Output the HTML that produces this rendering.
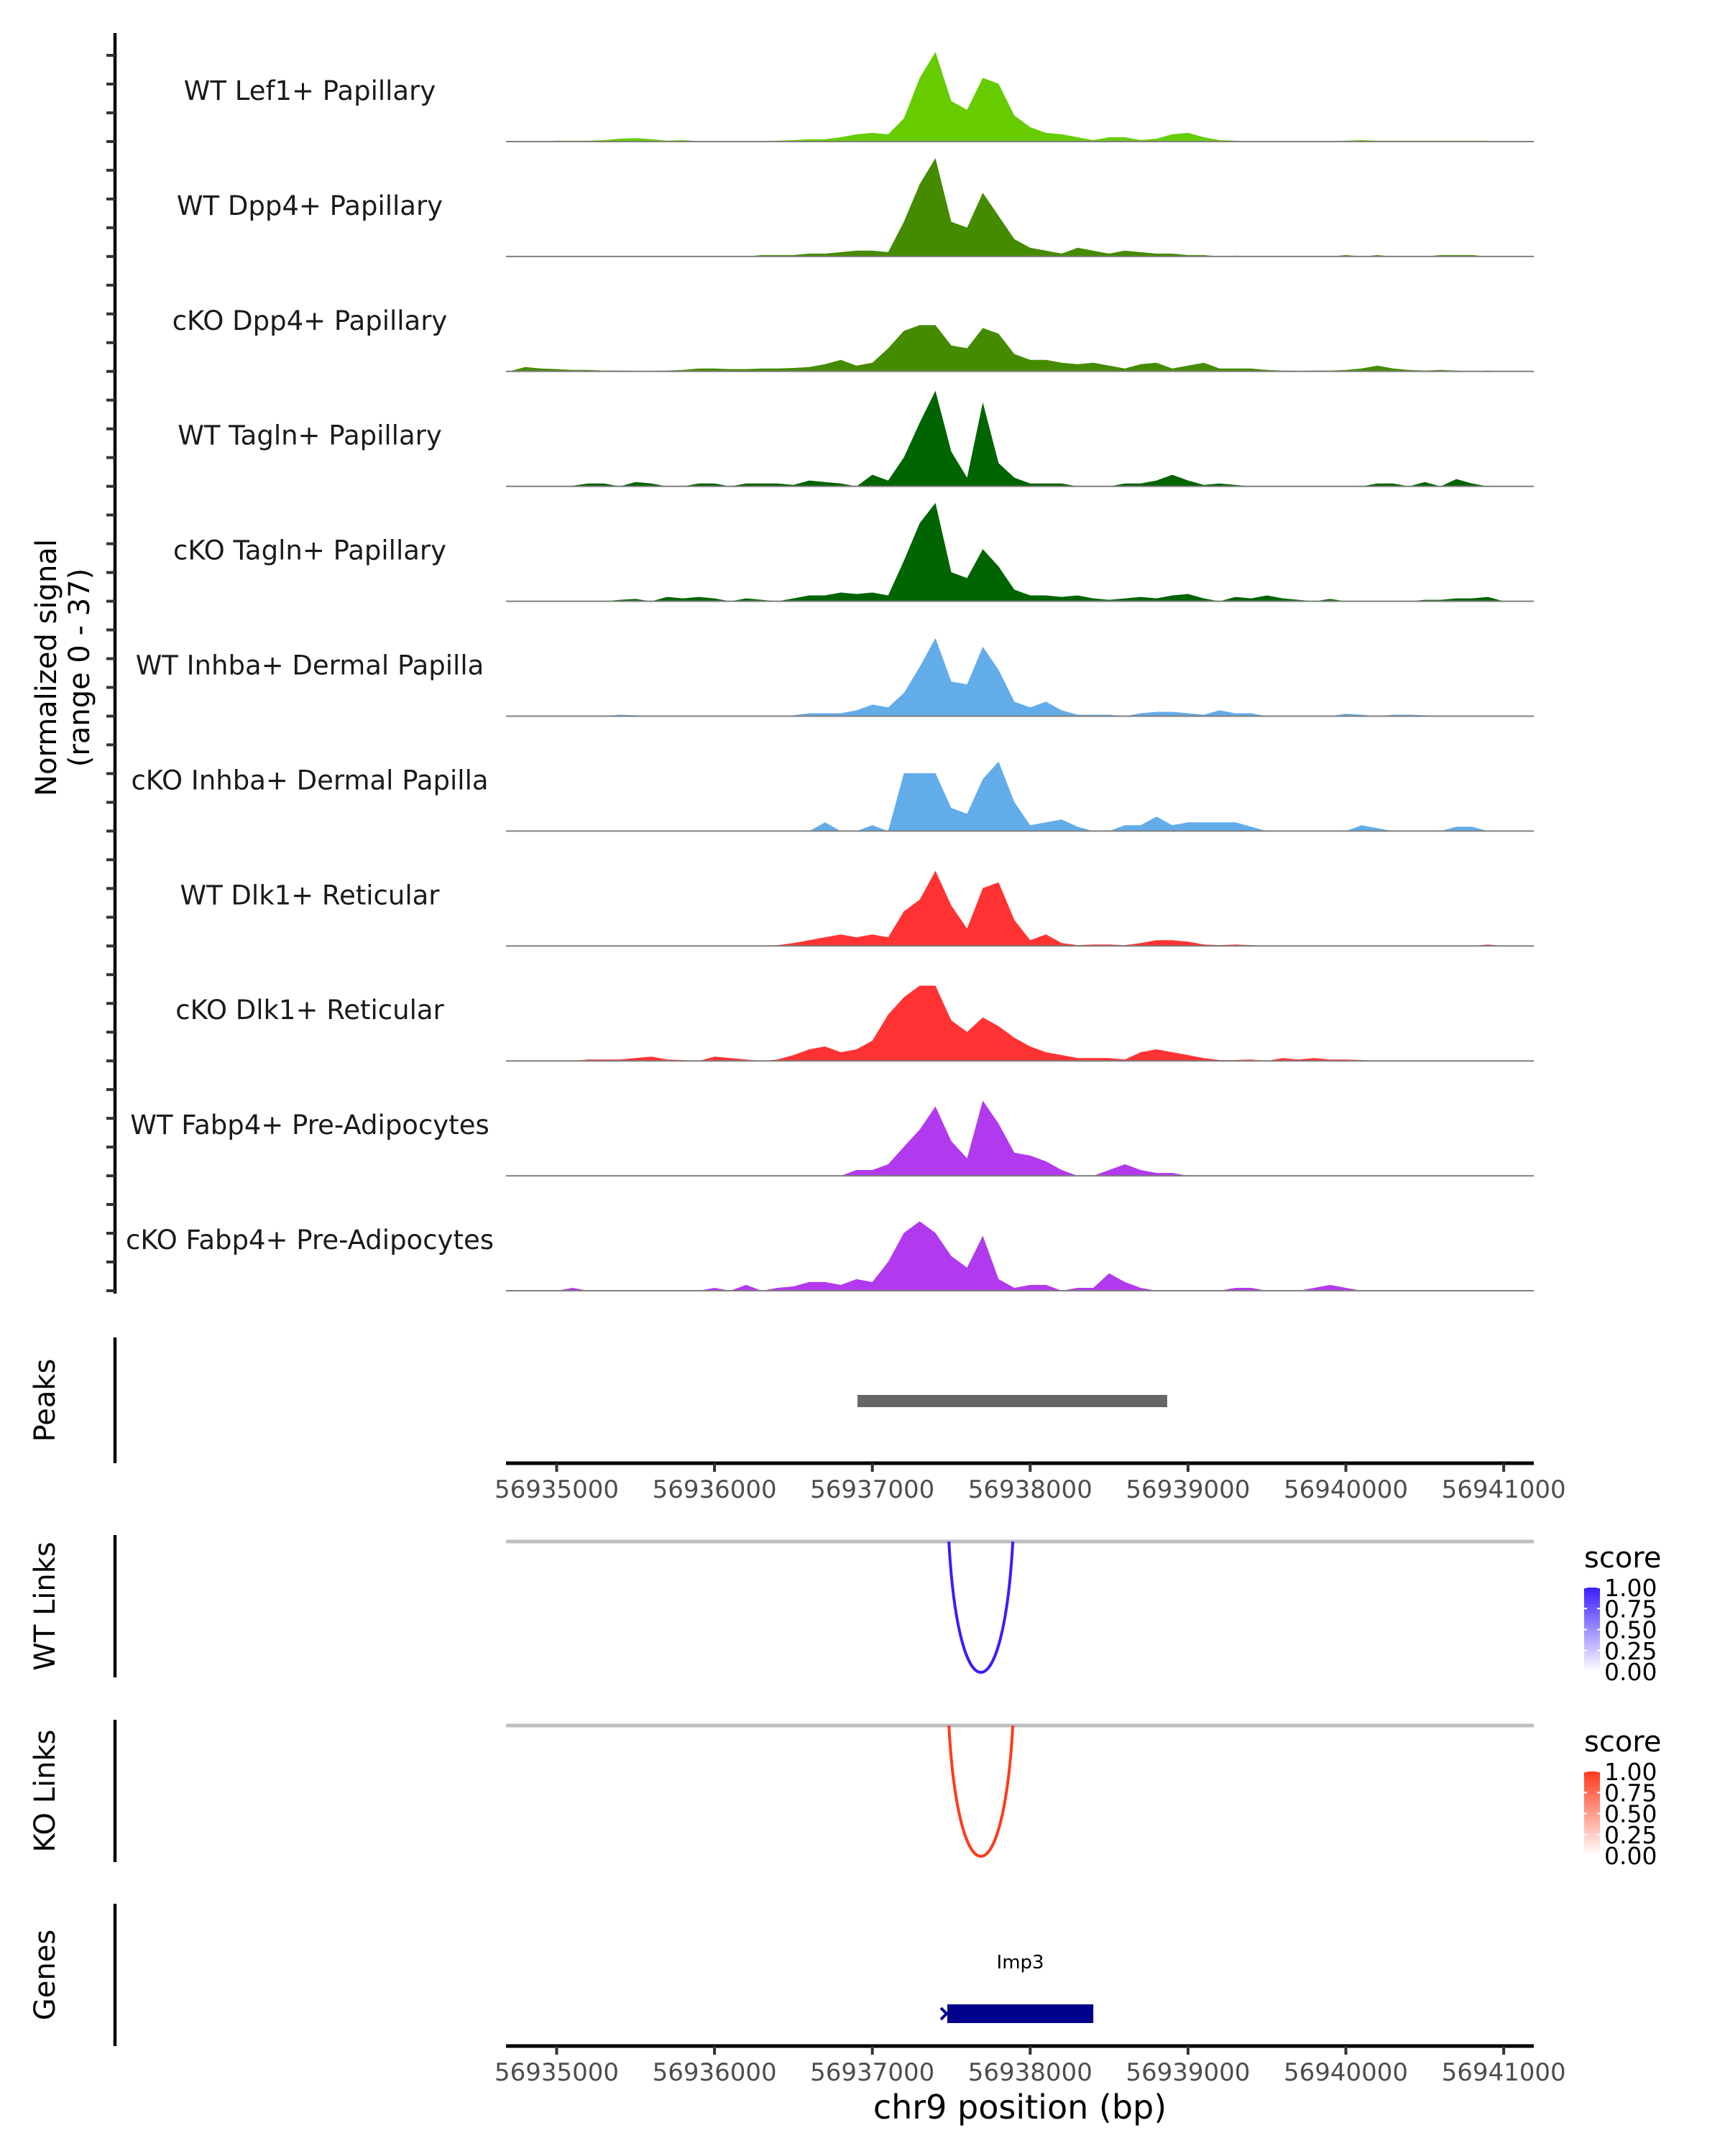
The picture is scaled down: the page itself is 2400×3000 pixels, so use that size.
<!DOCTYPE html>
<html><head><meta charset="utf-8"><style>
html,body{margin:0;padding:0;background:#fff;}
svg{display:block;font-family:"DejaVu Sans","Liberation Sans",sans-serif;}
</style></head><body>
<svg id="chart" width="2400" height="3000" viewBox="0 0 2400 3000"></svg>
<script>
const binStart = 56934700;
const binSize = 100;
const trackLabels = ["WT Lef1+ Papillary","WT Dpp4+ Papillary","cKO Dpp4+ Papillary","WT Tagln+ Papillary","cKO Tagln+ Papillary","WT Inhba+ Dermal Papilla","cKO Inhba+ Dermal Papilla","WT Dlk1+ Reticular","cKO Dlk1+ Reticular","WT Fabp4+ Pre-Adipocytes","cKO Fabp4+ Pre-Adipocytes"];
const trackColors = ["#66cc00","#458b00","#458b00","#006400","#006400","#63acea","#63acea","#ff3333","#ff3333","#b23aee","#b23aee"];
const sigLef1WT = [0,0,0,0.3,0.3,0.3,0.5,1,1.2,0.8,0.3,0.5,0.2,0.2,0.2,0.2,0.2,0.3,0.5,0.8,0.8,1.5,2.5,3,2.5,8,22,31,14,11,22,20,9,5,3,2.5,1.5,0.5,1.5,1.5,0.5,1,2.5,3,1.5,0.5,0.3,0.2,0.2,0.2,0.2,0.2,0.2,0.3,0.5,0.3,0.3,0.3,0.3,0.3,0.3,0.3,0.3,0,0];
const sigDpp4WT = [0,0,0,0,0,0,0,0,0,0,0,0,0,0,0,0,0.5,0.5,0.5,1,1,1.5,2,2,1.5,12,25,34,12,10,22,14,6,3,2,1,3,2,1,2,1.5,1,1,0.5,0.5,0,0.3,0,0,0,0,0,0,0.5,0,0.5,0,0,0,0.5,0.5,0.5,0,0,0];
const sigDpp4KO = [0,1.5,1,0.8,0.5,0.5,0.3,0.3,0.2,0.2,0.3,0.5,1,1,0.8,0.8,1,1,1.2,1.5,2.5,4,2,3,8,14,16,16,9,8,15,13,6,4,4,3,2.5,3,2,1,2.5,3,1,2,3,1,1,1,0.5,0.3,0.2,0.3,0.3,0.5,1,2,1,0.5,0.3,0.5,0.3,0,0.3,0,0];
const sigTaglnWT = [0,0,0,0,0.2,1,1,0,1.5,1,0,0,1,1,0,1,1,1,0.5,2,1.5,1,0,4,2,10,22,33,12,3,29,8,3,1,1,1,0,0,0,1,1,2,4,2,0.5,1,0.5,0,0,0,0,0,0,0,0,1,1,0,1.5,0,2.5,1,0,0,0];
const sigTaglnKO = [0,0,0,0,0,0,0,0.5,0.8,0,1.5,1,1.5,1,0,1,0.5,0,1,2,2,3,2.5,3,2,14,27,34,10,8,18,12,4,2,2,1.5,2,1,0.5,1,1.5,1,2,2.5,1,0,1.5,1,2,1,0.5,0,0.8,0,0,0,0,0,0.5,0.5,1,1,1.5,0,0];
const sigInhbaWT = [0,0,0,0,0,0,0,0.5,0.3,0,0,0,0,0,0.2,0.2,0,0,0.3,1,1,1,2,4,3,8,17,27,12,11,24,16,5,3,5,2,0.5,0.5,0.5,0,1,1.5,1.5,1,0.5,2,1,1,0,0,0,0,0,0.8,0.5,0,0.5,0.5,0.3,0,0,0,0,0,0];
const sigInhbaKO = [0,0,0,0,0,0,0,0,0,0,0,0,0,0,0,0,0,0,0,0,3,0,0,2,0,20,20,20,8,6,18,24,10,2,3,4,1.5,0,0,2,2,5,2,3,3,3,3,1.5,0,0,0,0,0,0,2,1,0,0,0,0,1.5,1.5,0,0,0];
const sigDlk1WT = [0,0,0,0,0,0,0,0,0,0,0,0,0,0,0,0,0,0.3,1,2,3,4,3,4,3,12,16,26,14,6,20,22,9,2,4,1,0.3,0.5,0.5,0.3,1,2,2,1.5,0.5,0.3,0.5,0.3,0,0,0,0,0,0,0,0,0,0,0,0,0,0,0.5,0,0];
const sigDlk1KO = [0,0,0,0,0,0.5,0.5,0.5,1,1.5,0.5,0.3,0,1.5,1,0.5,0,0.5,2,4,5,3,4,7,16,22,26,26,14,10,15,12,8,5,3,2,1,1,1,0.5,3,4,3,2,1,0.3,0.3,0.5,0,1,0.5,1,0.5,0.5,0.3,0,0,0,0,0,0,0,0,0,0];
const sigFabp4WT = [0,0,0,0,0,0,0,0,0,0,0,0,0,0,0,0,0,0,0,0,0,0,2,2,4,10,16,24,12,6,26,18,8,7,5,2,0,0,2,4,2,1,1,0,0,0,0,0,0,0,0,0,0,0,0,0,0,0,0,0,0,0,0,0,0];
const sigFabp4KO = [0,0,0,0,1,0,0,0,0,0,0,0,0,1,0,2,0,1,1.5,3,3,2,4,3,10,20,24,20,12,8,19,4,1,2,2,0,1,1,6,3,1,0,0,0,0,0,1,1,0,0,0,1,2,1,0,0,0,0,0,0,0,0,0,0,0];
const signals = [sigLef1WT,sigDpp4WT,sigDpp4KO,sigTaglnWT,sigTaglnKO,sigInhbaWT,sigInhbaKO,sigDlk1WT,sigDlk1KO,sigFabp4WT,sigFabp4KO];
const xTicks = [56935000,56936000,56937000,56938000,56939000,56940000,56941000];
const peakStarts = [56936906];
const peakEnds = [56938868];
const linkStarts = [56937485];
const linkEnds = [56937890];
const linkScores = [1.0];
const geneStarts = [56937475];
const geneEnds = [56938400];
const geneNames = ["Imp3"];
const legendTicks = [1.00,0.75,0.50,0.25,0.00];
const yMax = 37;

const NS="http://www.w3.org/2000/svg";
const svg=document.getElementById('chart');
function mk(tag,attrs,parent){const e=document.createElementNS(NS,tag);for(const k in attrs)e.setAttribute(k,attrs[k]);(parent||svg).appendChild(e);return e;}
const X0=704,X1=2134;
function xs(bp){return 774.5+(bp-56935000)*0.2196;}
const base0=197, trackGap=159.9, trackH=149;
function ys(v,b){return b-v/yMax*trackH;}

let ax=mk('line',{x1:160,y1:46,x2:160,y2:1800,stroke:'#000','stroke-width':4.5});

for(let i=0;i<11;i++){
  const b=base0+i*trackGap;
  for(let j=0;j<4;j++){
    const t=mk('line',{x1:148,x2:160,y1:b-j*40,y2:b-j*40,stroke:'#333','stroke-width':4});
    
  }
}
let yt=mk('text',{x:0,y:0,'font-size':40,'text-anchor':'middle',transform:'translate(88,929) rotate(-90)'});

mk('tspan',{x:0,dy:-10},yt).textContent='Normalized signal';
mk('tspan',{x:0,dy:46},yt).textContent='(range 0 - 37)';

const defs=mk('defs',{});
const cp=mk('clipPath',{id:'clipTracks'},defs);
mk('rect',{x:X0,y:0,width:X1-X0,height:1820},cp);

for(let i=0;i<11;i++){
  const b=base0+i*trackGap;
  const vals=signals[i];
  let d='M'+xs(binStart)+','+b;
  vals.forEach((v,k)=>{const x=xs(binStart+k*binSize);d+=' L'+x.toFixed(1)+','+ys(v,b).toFixed(1);});
  d+=' L'+xs(binStart+(vals.length-1)*binSize)+','+b+' Z';
  const g=mk('g',{'clip-path':'url(#clipTracks)'});
  const p=mk('path',{d:d,fill:trackColors[i]},g);
  
  const bl=mk('line',{x1:X0,x2:X1,y1:b,y2:b,stroke:'#7f7f7f','stroke-width':2});
  
  const lt=mk('text',{x:431,y:b-58,'font-size':37,'text-anchor':'middle',fill:'#1a1a1a'});
  lt.textContent=trackLabels[i];
  
}

function sidePanel(y1,y2,label,name){
  const l=mk('line',{x1:160,x2:160,y1:y1,y2:y2,stroke:'#000','stroke-width':4.5});
  
  const c=(y1+y2)/2;
  const t=mk('text',{x:0,y:0,'font-size':40,'text-anchor':'middle',transform:'translate(76,'+c+') rotate(-90)'});
  t.textContent=label;
  
}
sidePanel(1861,2036,'Peaks','peaks');
sidePanel(2136,2334,'WT Links','wt-links');
sidePanel(2393,2591,'KO Links','ko-links');
sidePanel(2649,2847,'Genes','genes');

peakStarts.forEach((s,i)=>{
  const r=mk('rect',{x:xs(s),y:1941,width:xs(peakEnds[i])-xs(s),height:17,fill:'#666'});
  
});

function xAxis(y,name){
  const l=mk('line',{x1:X0,x2:X1,y1:y,y2:y,stroke:'#000','stroke-width':5});
  
  xTicks.forEach(t=>{
    const tk=mk('line',{x1:xs(t),x2:xs(t),y1:y,y2:y+12,stroke:'#333','stroke-width':4});
    
    const tl=mk('text',{x:xs(t),y:y+48,'font-size':34,'text-anchor':'middle',fill:'#4d4d4d'});
    tl.textContent=String(t);
    
  });
}
xAxis(2036,'peaks-x-axis');
xAxis(2847,'genes-x-axis');
const xt=mk('text',{x:1419,y:2948,'font-size':46,'text-anchor':'middle'});
xt.textContent='chr9 position (bp)';


function linkPanel(yTop,yBot,color,gradId,name){
  const l=mk('line',{x1:X0,x2:X1,y1:yTop,y2:yTop,stroke:'#bebebe','stroke-width':5});
  
  linkStarts.forEach((s,i)=>{
    const a=xs(s),b=xs(linkEnds[i]);
    const c=yTop+(yBot-yTop)/0.75;
    const p=mk('path',{d:`M${a},${yTop} C${a+(b-a)*0.15},${c} ${b-(b-a)*0.15},${c} ${b},${yTop}`,fill:'none',stroke:color,'stroke-width':4,'stroke-opacity':linkScores[i]});
    
  });
  const lg=mk('g',{});
  
  const lgT=mk('text',{x:2204,y:yTop+36,'font-size':40},lg);lgT.textContent='score';
  const gr=mk('linearGradient',{id:gradId,x1:0,y1:1,x2:0,y2:0},defs);
  mk('stop',{offset:0,'stop-color':'#fff'},gr);
  mk('stop',{offset:1,'stop-color':color},gr);
  const bt=yTop+64,bh=117;
  mk('rect',{x:2204,y:bt,width:22,height:bh,fill:`url(#${gradId})`},lg);
  legendTicks.forEach(v=>{
    const y=bt+(1-v)*bh;
    mk('line',{x1:2204,x2:2208,y1:y,y2:y,stroke:'#fff','stroke-width':2},lg);
    mk('line',{x1:2222,x2:2226,y1:y,y2:y,stroke:'#fff','stroke-width':2},lg);
    const t=mk('text',{x:2232,y:y+12,'font-size':33},lg);t.textContent=v.toFixed(2);
  });
}
linkPanel(2145,2327,'#3a1cff','gradBlue','wt-links');
linkPanel(2401,2583,'#ff3a1c','gradRed','ko-links');

geneStarts.forEach((s,i)=>{
  const a=xs(s),b=xs(geneEnds[i]);
  const r=mk('rect',{x:a,y:2789,width:b-a,height:26,fill:'#00008b'});
  
  const ar=mk('path',{d:`M${a-9},2794 L${a-1},2802 L${a-9},2810`,fill:'none',stroke:'#00008b','stroke-width':4});
  
  const t=mk('text',{x:(a+b)/2,y:2739,'font-size':26,'text-anchor':'middle'});
  t.textContent=geneNames[i];
  
});
</script>
</body></html>
